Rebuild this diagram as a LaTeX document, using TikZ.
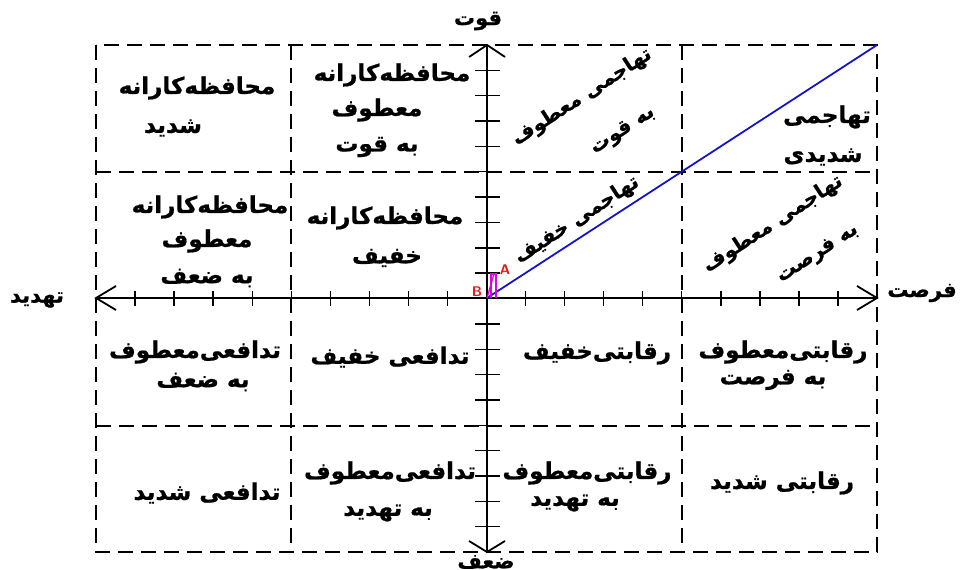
\documentclass[tikz,border=0pt]{standalone}
\usepackage{fontspec}
\TeXXeTstate=1
\newfontfamily\fa[Script=Arabic, BoldFeatures={FakeBold=0.8}]{DejaVu Sans}
\newcommand\rl[1]{\beginR #1\endR}
\definecolor{lineblue}{RGB}{20,20,205}
\definecolor{mag}{RGB}{225,0,225}
\definecolor{lred}{RGB}{230,25,25}
\tikzset{
  grid/.style={line width=1.8pt, dash pattern=on 15pt off 8pt, black},
  axis/.style={line width=1.8pt, black},
  tick/.style={line width=1.4pt, black},
  lbl/.style={font=\fa\bfseries\fontsize{23}{26}\selectfont, inner sep=0pt},
  axlbl/.style={font=\fa\bfseries\fontsize{21}{24}\selectfont, inner sep=0pt},
  rot/.style={font=\fa\bfseries\fontsize{20}{23}\selectfont, inner sep=0pt, rotate=33},
  ab/.style={font=\sffamily\bfseries\fontsize{14}{14}\selectfont, text=lred, inner sep=0pt},
}
\begin{document}
\begin{tikzpicture}[x=1pt,y=-1pt]
\useasboundingbox (0,0) rectangle (967,570);
% grid
\coordinate (TL) at (96,45);
\coordinate (BR) at (877,552);
\draw[grid] (TL) rectangle (BR);
\draw[grid] (291,45) -- (291,552);
\draw[grid] (682,45) -- (682,552);
\draw[grid] (96,172) -- (877,172);
\draw[grid] (96,426) -- (877,426);
% axes
\coordinate (O) at (487,298);
\coordinate (L) at (96,298);
\coordinate (R) at (877,298);
\coordinate (T) at (487,45);
\coordinate (Bt) at (487,552);
\draw[axis] (L) -- (R);
\draw[axis] (T) -- (Bt);
\draw[axis] ([shift={(20,-12)}]L) -- (L) -- ([shift={(20,12)}]L);
\draw[axis] ([shift={(-20,-12)}]R) -- (R) -- ([shift={(-20,12)}]R);
\draw[axis] ([shift={(-18,12)}]T) -- (T) -- ([shift={(18,12)}]T);
\draw[axis] ([shift={(-18,-11)}]Bt) -- (Bt) -- ([shift={(18,-11)}]Bt);
% ticks
\foreach \k in {1,...,9,11,12,...,19}{
  \draw[tick] ({96+39.05*\k},291) -- ({96+39.05*\k},306);
  \draw[tick] (475,{45+25.35*\k}) -- (500,{45+25.35*\k});
}
% diagonal
\coordinate (TR) at (877,45);
\draw[line width=1.8pt, lineblue] (O) -- (TR);
% small marks
\coordinate (Am) at (494,274);
\draw[mag, line width=1.3pt] (491,298) -- (491,274) -- (496,274) -- (496,298);
\draw[mag, line width=1.3pt] (O) -- (Am);
\node[ab] (A) at (505,270) {A};
\node[ab] (B) at (477,292) {B};
% axis labels
\node[axlbl] (qovvat) at (478,21) {\rl{قوت}};
\node[axlbl] (zaf) at (486,562) {\rl{ضعف}};
\node[axlbl] (tahdid) at (37,300) {\rl{تهدید}};
\node[axlbl] (forsat) at (922,293) {\rl{فرصت}};
% row 1
\node[lbl] (r1c1a) at (197,88) {\rl{محافظه‌کارانه}};
\node[lbl] (r1c1b) at (173,128) {\rl{شدید}};
\node[lbl] (r1c2a) at (392,75) {\rl{محافظه‌کارانه}};
\node[lbl] (r1c2b) at (377,110) {\rl{معطوف}};
\node[lbl] (r1c2c) at (377,147) {\rl{به قوت}};
\node[rot] (r1c3a) at (582,97) {\rl{تهاجمی معطوف}};
\node[rot] (r1c3b) at (623,131) {\rl{به قوت}};
\node[lbl] (r1c4a) at (827,117) {\rl{تهاجمی}};
\node[lbl] (r1c4b) at (823,157) {\rl{شدیدی}};
% row 2
\node[lbl] (r2c1a) at (210,207) {\rl{محافظه‌کارانه}};
\node[lbl] (r2c1b) at (207,241) {\rl{معطوف}};
\node[lbl] (r2c1c) at (207,278) {\rl{به ضعف}};
\node[lbl] (r2c2a) at (385,218) {\rl{محافظه‌کارانه}};
\node[lbl] (r2c2b) at (387,258) {\rl{خفیف}};
\node[rot] (r2c3a) at (577,220) {\rl{تهاجمی خفیف}};
\node[rot] (r2c4a) at (773,224) {\rl{تهاجمی معطوف}};
\node[rot] (r2c4b) at (818,254) {\rl{به فرصت}};
% row 3
\node[lbl] (r3c1a) at (195,352) {\rl{تدافعی‌معطوف}};
\node[lbl] (r3c1b) at (203,382) {\rl{به ضعف}};
\node[lbl] (r3c2a) at (390,357) {\rl{تدافعی خفیف}};
\node[lbl] (r3c3a) at (597,353) {\rl{رقابتی‌خفیف}};
\node[lbl] (r3c4a) at (783,352) {\rl{رقابتی‌معطوف}};
\node[lbl] (r3c4b) at (773,380) {\rl{به فرصت}};
% row 4
\node[lbl] (r4c1a) at (207,493) {\rl{تدافعی شدید}};
\node[lbl] (r4c2a) at (390,473) {\rl{تدافعی‌معطوف}};
\node[lbl] (r4c2b) at (388,513) {\rl{به تهدید}};
\node[lbl] (r4c3a) at (587,473) {\rl{رقابتی‌معطوف}};
\node[lbl] (r4c3b) at (575,503) {\rl{به تهدید}};
\node[lbl] (r4c4a) at (782,483) {\rl{رقابتی شدید}};
\end{tikzpicture}
\end{document}
